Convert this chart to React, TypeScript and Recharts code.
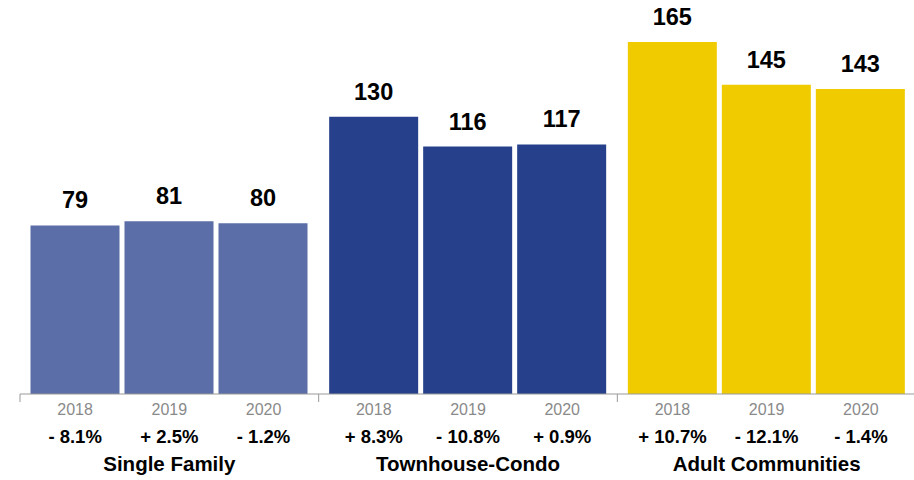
import { BarChart, Bar, XAxis, YAxis, Cell, LabelList } from "recharts";

const categories = ["Single Family", "Townhouse-Condo", "Adult Communities"];
const years = ["2018", "2019", "2020"];
const values2018 = [79, 130, 165];
const values2019 = [81, 116, 145];
const values2020 = [80, 117, 143];
const changes2018 = ["- 8.1%", "+ 8.3%", "+ 10.7%"];
const changes2019 = ["+ 2.5%", "- 10.8%", "- 12.1%"];
const changes2020 = ["- 1.2%", "+ 0.9%", "- 1.4%"];
const groupColors = ["#5b6ea8", "#27408b", "#f0cb00"];

const data = categories.map((name, i) => ({
  name,
  y2018: values2018[i],
  y2019: values2019[i],
  y2020: values2020[i],
  changes: [changes2018[i], changes2019[i], changes2020[i]],
}));

const CHART_W = 920;
const CHART_H = 480;
const MARGIN = { top: 10, right: 4, bottom: 0, left: 20 };
const BAND = (CHART_W - MARGIN.left - MARGIN.right) / categories.length;
const CAT_GAP = 10.5;
const BAR_GAP = 5;
const BAR_W = (BAND - 2 * CAT_GAP - (years.length - 1) * BAR_GAP) / years.length;
const PITCH = BAR_W + BAR_GAP;

const font = '"Liberation Sans", Arial, Helvetica, sans-serif';

function GroupTick(props: any) {
  const { x, y, payload, index } = props;
  const row = data[index] ?? data.find((d) => d.name === payload.value);
  return (
    <g>
      <line x1={x - BAND / 2} x2={x - BAND / 2} y1={y} y2={y + 8} stroke="#999" />
      {index === categories.length - 1 && (
        <line x1={x + BAND / 2} x2={x + BAND / 2} y1={y} y2={y + 8} stroke="#999" />
      )}
      {years.map((yr, k) => (
        <text
          key={yr}
          x={x + (k - 1) * PITCH}
          y={y + 21}
          textAnchor="middle"
          fontSize={16}
          fill="#8a8a8a"
          fontFamily={font}
        >
          {yr}
        </text>
      ))}
      {row.changes.map((c: string, k: number) => (
        <text
          key={k}
          x={x + (k - 1) * PITCH}
          y={y + 49}
          textAnchor="middle"
          fontSize={18.5}
          fontWeight="bold"
          fill="#000"
          fontFamily={font}
        >
          {c}
        </text>
      ))}
      <text
        x={x}
        y={y + 77}
        textAnchor="middle"
        fontSize={20.5}
        fontWeight="bold"
        fill="#000"
        fontFamily={font}
      >
        {payload.value}
      </text>
    </g>
  );
}

const labelStyle = { fontSize: 23.5, fontWeight: "bold", fill: "#000", fontFamily: font };

export default function App() {
  return (
    <div
      style={{
        position: "absolute",
        left: 0,
        top: 0,
        width: 914,
        height: 480,
        overflow: "hidden",
        background: "#fff",
      }}
    >
      <BarChart
        width={CHART_W}
        height={CHART_H}
        data={data}
        margin={MARGIN}
        barGap={BAR_GAP}
        barCategoryGap={CAT_GAP}
      >
        <XAxis
          dataKey="name"
          axisLine={{ stroke: "#999" }}
          tickLine={false}
          tickSize={0}
          tickMargin={0}
          height={86}
          interval={0}
          tick={<GroupTick />}
        />
        <YAxis hide domain={[0, 180]} />
        {["y2018", "y2019", "y2020"].map((key) => (
          <Bar key={key} dataKey={key} isAnimationActive={false}>
            {data.map((d, i) => (
              <Cell key={d.name} fill={groupColors[i]} />
            ))}
            <LabelList dataKey={key} position="top" offset={17} style={labelStyle} />
          </Bar>
        ))}
      </BarChart>
    </div>
  );
}
